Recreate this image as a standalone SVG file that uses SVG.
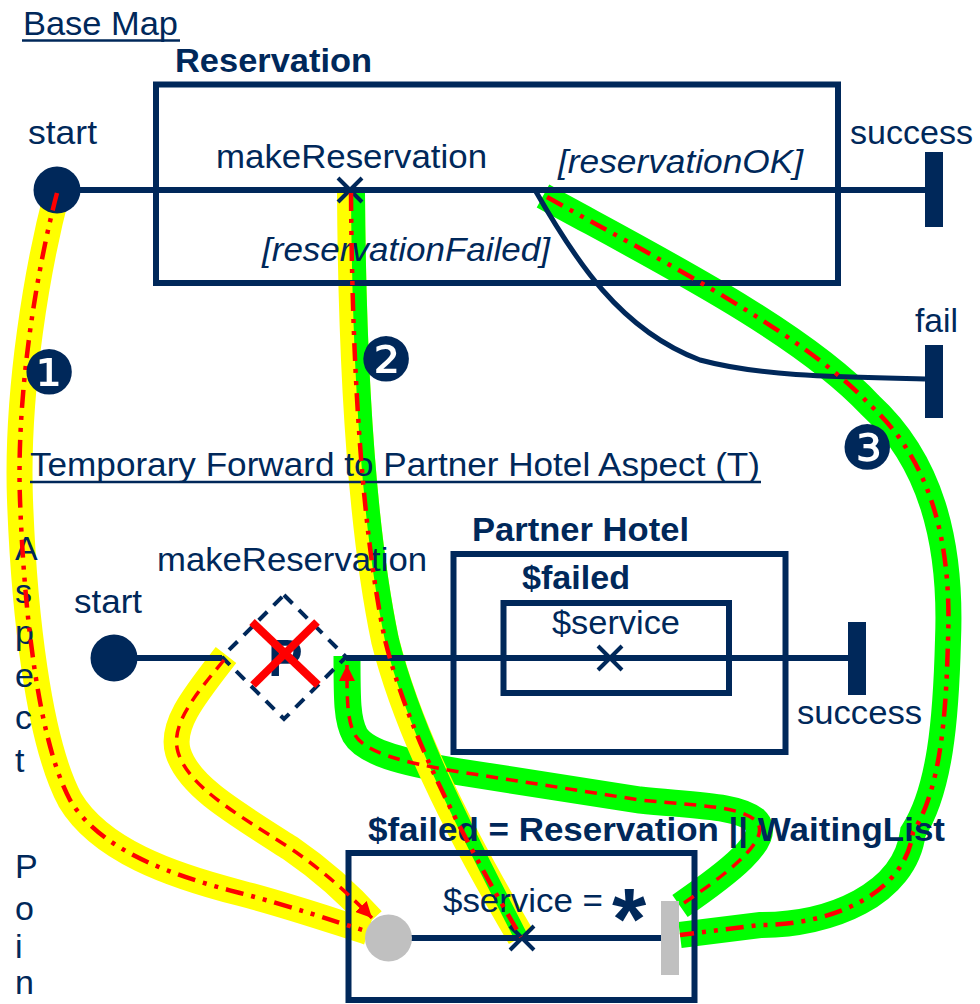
<svg xmlns="http://www.w3.org/2000/svg" width="980" height="1004" viewBox="0 0 980 1004">
  <defs>
    <marker id="arrow-red" viewBox="0 0 10 10" refX="10" refY="5" markerWidth="16" markerHeight="16" markerUnits="userSpaceOnUse" orient="auto">
      <path d="M0,0 L10,5 L0,10 z" fill="#ff0000"/>
    </marker>
  </defs>
  <style>
    .t{font-family:"Liberation Sans",Arial,sans-serif;fill:#00285a;font-size:33px}
    .b{font-weight:bold}
    .i{font-style:italic}
    .ln{stroke:#00285a;stroke-width:6;fill:none}
    .box{stroke:#00285a;stroke-width:6;fill:none}
    .bar{fill:#00285a}
    .xm{stroke:#00285a;stroke-width:4;fill:none}
    .yel{stroke:#ffff00;fill:none}
    .grn{stroke:#00ff00;fill:none}
    .dd{stroke:#ff0000;fill:none;stroke-width:4.5;stroke-dasharray:18 8 4 8 4 8}
    .ds{stroke:#ff0000;fill:none;stroke-width:3.5;stroke-dasharray:12 8}
    .num{font-family:"DejaVu Sans",sans-serif;fill:#00285a;font-size:61px}
  </style>

  <!-- highlighted traversal bands -->
  <g id="highlight-bands">
    <path class="yel" stroke-width="26" d="M57,193 C38,265 16,390 20,500 C24,610 38,740 70,800 C100,850 170,875 240,893 C290,906 330,920 368,932"/>
    <path class="grn" stroke-width="26" d="M543,196 C650,255 800,330 870,405 C930,460 952,540 948,640 C946,720 940,790 913,832 C905,895 830,925 760,925 L680,935"/>
    <path class="grn" stroke-width="27" d="M680,906 C725,875 775,838 755,820 C738,806 700,806 640,800 L460,772 C400,762 365,752 355,735 C347,720 347,700 347,656"/>
    <path class="yel" stroke-width="26" d="M226,655 C195,695 170,725 178,752 C188,785 230,810 290,848 C322,870 348,893 372,920"/>
    <path class="yel" stroke-width="28" d="M351,193 C352,350 360,520 385,640 C410,740 470,850 521,937"/>
    <path class="grn" stroke-width="14" transform="translate(7,0)" d="M351,193 C352,350 360,520 385,640 C410,740 470,850 514,937"/>
  </g>

  <!-- Base map: Reservation -->
  <g id="base-map-title">
    <text class="t" x="23" y="35" style="font-size:34px" textLength="155" lengthAdjust="spacingAndGlyphs">Base Map</text>
    <line x1="22" y1="40.5" x2="180" y2="40.5" stroke="#00285a" stroke-width="2.5"/>
  </g>
  <g id="reservation">
    <rect class="box" x="156" y="84.5" width="682" height="198.5"/>
    <text class="t b" x="175" y="72" textLength="197" lengthAdjust="spacingAndGlyphs">Reservation</text>
    <text class="t" x="216" y="168" textLength="271" lengthAdjust="spacingAndGlyphs">makeReservation</text>
    <text class="t i" x="558" y="173" textLength="245" lengthAdjust="spacingAndGlyphs">[reservationOK]</text>
    <text class="t i" x="262" y="261" textLength="288" lengthAdjust="spacingAndGlyphs">[reservationFailed]</text>
  </g>
  <g id="base-start">
    <circle cx="57" cy="190" r="23.5" fill="#00285a"/>
    <text class="t" x="28" y="144" textLength="69" lengthAdjust="spacingAndGlyphs">start</text>
  </g>
  <g id="base-success">
    <rect class="bar" x="925" y="152" width="18" height="75"/>
    <text class="t" x="850" y="144" textLength="123" lengthAdjust="spacingAndGlyphs">success</text>
  </g>
  <g id="base-fail">
    <rect class="bar" x="925" y="345" width="18" height="73"/>
    <text class="t" x="915" y="332" textLength="43" lengthAdjust="spacingAndGlyphs">fail</text>
  </g>

  <!-- Aspect: Temporary Forward to Partner Hotel -->
  <g id="aspect-title">
    <text class="t" x="30" y="476" textLength="730" lengthAdjust="spacingAndGlyphs">Temporary Forward to Partner Hotel Aspect (T)</text>
    <line x1="30" y1="482" x2="761" y2="482" stroke="#00285a" stroke-width="2.5"/>
  </g>
  <g id="aspect-start">
    <circle cx="114" cy="658" r="23.5" fill="#00285a"/>
    <text class="t" x="74" y="613" textLength="68" lengthAdjust="spacingAndGlyphs">start</text>
  </g>
  <g id="pointcut-stub">
    <polygon points="284,595 346,657 284,719 222,657" fill="none" stroke="#00285a" stroke-width="4" stroke-dasharray="12 9"/>
    <text class="t b" x="268" y="676" style="font-size:52px">P</text>
    <line x1="252" y1="622" x2="318" y2="685" stroke="#ff0000" stroke-width="8"/>
    <line x1="317" y1="622" x2="253" y2="685" stroke="#ff0000" stroke-width="8"/>
    <text class="t" x="157" y="571" textLength="270" lengthAdjust="spacingAndGlyphs">makeReservation</text>
  </g>
  <g id="partner-hotel">
    <rect class="box" x="453.5" y="554" width="332" height="198"/>
    <text class="t b" x="472" y="541" textLength="217" lengthAdjust="spacingAndGlyphs">Partner Hotel</text>
  </g>
  <g id="failed-plugin">
    <rect class="box" x="503.5" y="603" width="225.5" height="90"/>
    <text class="t b" x="522" y="589" textLength="108" lengthAdjust="spacingAndGlyphs">$failed</text>
    <text class="t" x="552" y="634" textLength="128" lengthAdjust="spacingAndGlyphs">$service</text>
  </g>
  <g id="aspect-success">
    <rect class="bar" x="848" y="622" width="18" height="73"/>
    <text class="t" x="797" y="724" textLength="125" lengthAdjust="spacingAndGlyphs">success</text>
  </g>
  <g id="aspect-point-label">
    <text class="t" style="font-size:34px">
      <tspan x="15" y="560">A</tspan><tspan x="15" y="603">s</tspan><tspan x="15" y="644">p</tspan><tspan x="15" y="687">e</tspan><tspan x="15" y="729">c</tspan><tspan x="15" y="772">t</tspan><tspan x="15" y="878">P</tspan><tspan x="15" y="920">o</tspan><tspan x="15" y="958">i</tspan><tspan x="15" y="994">n</tspan>
    </text>
  </g>

  <!-- plug-in map for $failed -->
  <g id="waitinglist-plugin">
    <rect class="box" x="348.5" y="853" width="346" height="147"/>
    <text class="t b" x="368" y="841" textLength="577" lengthAdjust="spacingAndGlyphs">$failed = Reservation || WaitingList</text>
    <text class="t" x="443" y="912" textLength="160" lengthAdjust="spacingAndGlyphs">$service =</text>
    <text class="t b" x="612" y="949" style="font-size:88px">*</text>
  </g>

  <!-- map paths -->
  <g id="connectors">
    <path class="ln" d="M57,190 H925"/>
    <path class="ln" style="stroke-width:5" d="M535,190 C575,260 620,330 700,360 C760,376 830,377 925,379"/>
    <path class="ln" d="M114,658 H222 M346,658 H848"/>
    <path class="ln" d="M388,938 H661"/>
    <path class="xm" d="M338,178 L362,202 M362,178 L338,202"/>
    <path class="xm" d="M598,646 L622,670 M622,646 L598,670"/>
    <path class="xm" d="M510,926 L534,950 M534,926 L510,950"/>
  </g>
  <g id="plugin-start">
    <circle cx="388.5" cy="938" r="23.5" fill="#c0c0c0"/>
  </g>
  <g id="plugin-end">
    <rect x="661" y="901" width="18" height="74" fill="#c0c0c0"/>
  </g>

  <!-- traversal centre lines -->
  <g id="traversal-lines">
    <path class="dd" d="M57,193 C38,265 16,390 20,500 C24,610 38,740 70,800 C100,850 170,875 240,893 C290,906 330,920 366,931"/>
    <path class="dd" d="M351,193 C352,350 360,520 385,640 C410,740 470,850 521,937"/>
    <path class="dd" d="M547,197 C650,255 800,330 870,405 C930,460 952,540 948,640 C946,720 940,790 913,832 C905,895 830,925 760,925 L680,935"/>
    <path class="ds" marker-end="url(#arrow-red)" d="M684,903 C725,875 775,838 755,820 C738,806 700,806 640,800 L460,772 C400,762 365,752 355,735 C347,720 347,700 347,665"/>
    <path class="ds" marker-end="url(#arrow-red)" d="M224,660 C195,695 170,725 178,752 C188,785 230,810 290,848 C322,870 348,893 372,918"/>
  </g>

  <!-- path numbers -->
  <g id="path-numbers">
    <text class="num" x="49" y="394" text-anchor="middle">❶</text>
    <text class="num" x="386" y="381" text-anchor="middle">❷</text>
    <text class="num" x="867" y="469" text-anchor="middle">❸</text>
  </g>
</svg>
